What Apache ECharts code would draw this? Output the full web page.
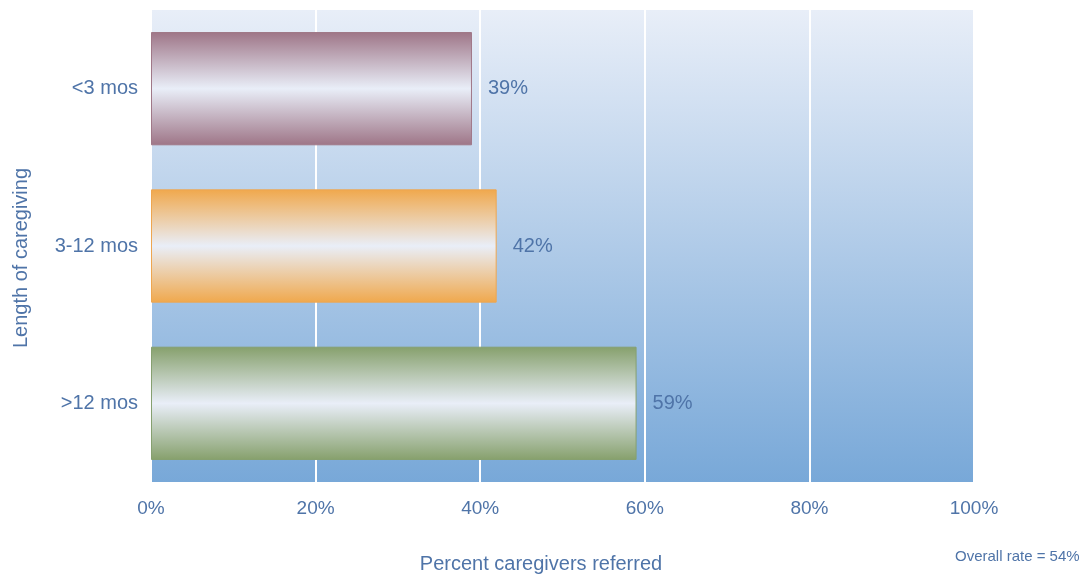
<!DOCTYPE html>
<html>
<head>
<meta charset="utf-8">
<script src="https://cdn.jsdelivr.net/npm/echarts@6/dist/echarts.min.js"></script>
<style>
  html, body { margin: 0; padding: 0; background: #ffffff; }
  #chart { width: 1089px; height: 577px; }
</style>
</head>
<body>
<div id="chart"></div>
<script>
// Referral rate by length of caregiving
const categories = ['<3 mos', '3-12 mos', '>12 mos'];
const referredPct = [39, 42, 59];
const xTicks = [0, 20, 40, 60, 80, 100];
const overallRate = 54;

// Shaded "tube" colours per bar: edge colour, centre highlight
const barEdges = ['#9e7587', '#f0a84c', '#86a06c'];
const barBorders = ['#a07888', '#eea650', '#86a070'];
const highlight = '#e9eef8';

const textColor = '#4f74a8';
const fontFamily = '"Liberation Sans", Arial, Helvetica, sans-serif';

function tube(edge) {
  return new echarts.graphic.LinearGradient(0, 0, 0, 1, [
    { offset: 0, color: edge },
    { offset: 0.5, color: highlight },
    { offset: 1, color: edge }
  ]);
}

const chart = echarts.init(document.getElementById('chart'), null, { renderer: 'canvas' });

chart.setOption({
  animation: false,
  backgroundColor: '#ffffff',
  grid: {
    left: 151, right: 115, top: 10, bottom: 95,
    show: true,
    borderWidth: 0,
    backgroundColor: new echarts.graphic.LinearGradient(0, 0, 0, 1, [
      { offset: 0, color: '#e8eef8' },
      { offset: 1, color: '#78a8d8' }
    ])
  },
  xAxis: {
    type: 'value',
    min: xTicks[0],
    max: xTicks[xTicks.length - 1],
    interval: 20,
    axisLine: { show: false },
    axisTick: { show: false },
    axisLabel: {
      color: textColor, fontSize: 19, fontFamily: fontFamily, margin: 17,
      formatter: v => v + '%'
    },
    splitLine: { show: true, lineStyle: { color: '#ffffff', width: 2 } }
  },
  yAxis: {
    type: 'category',
    data: categories,
    inverse: true,
    axisLine: { show: false },
    axisTick: { show: false },
    axisLabel: { color: textColor, fontSize: 20, fontFamily: fontFamily, margin: 13 },
    splitLine: { show: false }
  },
  series: [{
    type: 'bar',
    barWidth: '72%',
    data: referredPct.map((v, i) => ({
      value: v,
      itemStyle: {
        color: tube(barEdges[i]),
        borderColor: barBorders[i],
        borderWidth: 1
      }
    })),
    label: {
      show: true,
      position: 'right',
      distance: 16,
      color: textColor,
      fontSize: 20,
      fontFamily: fontFamily,
      formatter: p => p.value + '%'
    }
  }],
  graphic: [
    {
      type: 'text',
      x: 541, y: 564,
      style: {
        text: 'Percent caregivers referred', fill: textColor, font: '20px ' + fontFamily,
        align: 'center', verticalAlign: 'middle'
      }
    },
    {
      type: 'text',
      x: 955, y: 557,
      style: {
        text: 'Overall rate = ' + overallRate + '%', fill: textColor, font: '15px ' + fontFamily,
        align: 'left', verticalAlign: 'middle'
      }
    },
    {
      type: 'text',
      x: 21, y: 258,
      rotation: Math.PI / 2,
      style: {
        text: 'Length of caregiving', fill: textColor, font: '20px ' + fontFamily,
        align: 'center', verticalAlign: 'middle'
      }
    }
  ]
});
</script>
</body>
</html>
